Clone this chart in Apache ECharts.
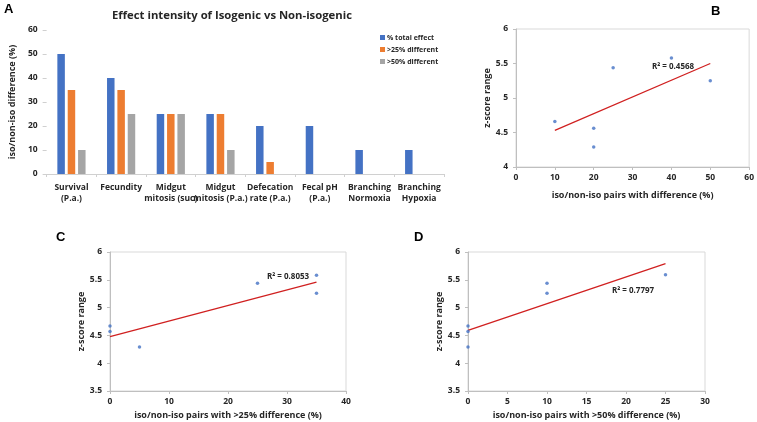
<!DOCTYPE html>
<html><head><meta charset="utf-8">
<script src="https://cdn.jsdelivr.net/npm/echarts@6/dist/echarts.min.js"></script>
<style>html,body{margin:0;padding:0;background:#fff}#c{width:757px;height:422px}</style>
</head><body><div id="c"></div>
<script>
const categories = ["Survival\n(P.a.)","Fecundity","Midgut\nmitosis (suc)","Midgut\nmitosis (P.a.)","Defecation\nrate (P.a.)","Fecal pH\n(P.a.)","Branching\nNormoxia","Branching\nHypoxia"];
const totalEffect = [50,40,25,25,20,20,10,10];
const diff25 = [35,35,25,25,5,0,0,0];
const diff50 = [10,25,25,10,0,0,0,0];
const barNames = ["% total effect", ">25% different", ">50% different"];

const pointsB = [[10,4.66],[20,4.56],[20,4.29],[25,5.44],[40,5.58],[50,5.25]];
const trendB = [[10,4.53],[50,5.50]];
const pointsC = [[0,4.67],[0,4.57],[5,4.29],[25,5.44],[35,5.58],[35,5.26]];
const trendC = [[0,4.48],[35,5.46]];
const pointsD = [[0,4.67],[0,4.57],[0,4.29],[10,5.44],[10,5.26],[25,5.59]];
const trendD = [[0,4.59],[25,5.79]];
const r2Labels = ["R² = 0.4568","R² = 0.8053","R² = 0.7797"];

const FONT = "Open Sans";
const TXT = "#262626";
const BLUE = "#4472C4", ORANGE = "#ED7D31", GRAY = "#A5A5A5", RED = "#D02020";
const axLbl = {color: TXT, fontFamily: FONT, fontWeight: "bold", fontSize: 8.5};
const nameSt = {color: TXT, fontFamily: FONT, fontWeight: "bold", fontSize: 9};

function valX(gi, min, max, interval, name, gap) {
  return {type:'value', gridIndex:gi, min, max, interval, name, nameLocation:'middle', nameGap:gap, nameTextStyle:nameSt,
    axisLine:{show:true, lineStyle:{color:'#bfbfbf'}}, axisTick:{show:true, length:3, lineStyle:{color:'#bfbfbf'}},
    splitLine:{show:false}, axisLabel:Object.assign({margin:6}, axLbl)};
}
function valY(gi, min, max, interval, name) {
  return {type:'value', gridIndex:gi, min, max, interval, name, nameLocation:'middle', nameGap:24, nameTextStyle:nameSt,
    axisLine:{show:true, lineStyle:{color:'#bfbfbf'}}, axisTick:{show:true, length:3, lineStyle:{color:'#bfbfbf'}},
    splitLine:{show:false}, axisLabel:Object.assign({margin:8}, axLbl)};
}
function pts(xi, data) {
  return {type:'scatter', xAxisIndex:xi, yAxisIndex:xi, data, symbolSize:3.5, itemStyle:{color:BLUE}, z:3};
}
function trend(xi, data) {
  return {type:'line', xAxisIndex:xi, yAxisIndex:xi, data, symbol:'none', lineStyle:{color:RED, width:1.3}, z:2};
}

const chart = echarts.init(document.getElementById('c'), null, {renderer:'canvas'});
const option = {
  animation:false,
  textStyle:{fontFamily:FONT},
  title:{text:"Effect intensity of Isogenic vs Non-isogenic", left:227, textAlign:'center', top:5,
    textStyle:{fontFamily:FONT, fontWeight:'bold', fontSize:11.3, color:TXT}},
  legend:{orient:'vertical', left:375, top:29, itemWidth:5, itemHeight:5, itemGap:5, icon:'rect',
    data:barNames, textStyle:{fontFamily:FONT, fontWeight:'bold', fontSize:7, color:TXT, padding:[0,0,0,-3]}},
  grid:[
    {left:42, top:30, width:402, height:144},
    {left:516, top:29, width:236, height:138, show:true, borderColor:'#d9d9d9', borderWidth:1},
    {left:110, top:252, width:236, height:139, show:true, borderColor:'#d9d9d9', borderWidth:1},
    {left:468, top:252, width:237, height:139, show:true, borderColor:'#d9d9d9', borderWidth:1}
  ],
  xAxis:[
    {type:'category', gridIndex:0, data:categories, axisLine:{lineStyle:{color:'#d0d0d0'}},
      axisTick:{show:true, length:3, lineStyle:{color:'#d0d0d0'}},
      axisLabel:Object.assign({interval:0, margin:8, lineHeight:11}, axLbl)},
    valX(1, 0, 60, 10, "iso/non-iso pairs with difference (%)", 24),
    valX(2, 0, 40, 10, "iso/non-iso pairs with >25% difference (%)", 20),
    valX(3, 0, 30, 5, "iso/non-iso pairs with >50% difference (%)", 20)
  ],
  yAxis:[
    {type:'value', gridIndex:0, min:0, max:60, interval:10, name:"iso/non-iso difference (%)", nameLocation:'middle', nameGap:24,
      nameTextStyle:nameSt, axisLine:{show:false}, axisTick:{show:true, length:4, lineStyle:{color:'#d0d0d0'}},
      splitLine:{show:false}, axisLabel:Object.assign({margin:9}, axLbl)},
    valY(1, 4, 6, 0.5, "z-score range"),
    valY(2, 3.5, 6, 0.5, "z-score range"),
    valY(3, 3.5, 6, 0.5, "z-score range")
  ],
  series:[
    {type:'bar', name:barNames[0], xAxisIndex:0, yAxisIndex:0, data:totalEffect, itemStyle:{color:BLUE}, barWidth:7.5, barGap:'38%'},
    {type:'bar', name:barNames[1], xAxisIndex:0, yAxisIndex:0, data:diff25, itemStyle:{color:ORANGE}, barWidth:7.5, barGap:'38%'},
    {type:'bar', name:barNames[2], xAxisIndex:0, yAxisIndex:0, data:diff50, itemStyle:{color:GRAY}, barWidth:7.5, barGap:'38%'},
    trend(1, trendB), pts(1, pointsB),
    trend(2, trendC), pts(2, pointsC),
    trend(3, trendD), pts(3, pointsD)
  ],
  graphic:[
    {type:'text', left:4, top:3, style:{text:'A', font:'bold 13px Arial', fill:'#000'}},
    {type:'text', left:711, top:5, style:{text:'B', font:'bold 13px Arial', fill:'#000'}},
    {type:'text', left:56, top:231, style:{text:'C', font:'bold 13px Arial', fill:'#000'}},
    {type:'text', left:414, top:231, style:{text:'D', font:'bold 13px Arial', fill:'#000'}},
    {type:'text', x:673, y:67, style:{text:r2Labels[0], font:'bold 8px "Open Sans"', fill:TXT, textAlign:'center', textVerticalAlign:'middle'}},
    {type:'text', x:288, y:277, style:{text:r2Labels[1], font:'bold 8px "Open Sans"', fill:TXT, textAlign:'center', textVerticalAlign:'middle'}},
    {type:'text', x:633, y:291, style:{text:r2Labels[2], font:'bold 8px "Open Sans"', fill:TXT, textAlign:'center', textVerticalAlign:'middle'}}
  ]
};
chart.setOption(option);
</script></body></html>
